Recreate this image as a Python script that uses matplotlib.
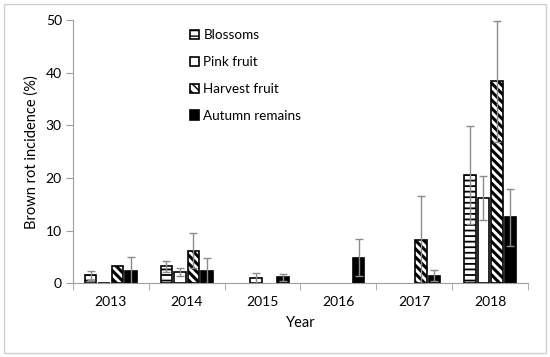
import matplotlib as mpl
import matplotlib.pyplot as plt
import numpy as np
from matplotlib.patches import Rectangle

years = ['2013', '2014', '2015', '2016', '2017', '2018']

# brown rot incidence (%) and error (upper half of the bar)
blossoms = [1.5, 3.2, 0, 0, 0, 20.6]
blossoms_err = [0.9, 1.1, np.nan, np.nan, np.nan, 9.3]
pink = [0.15, 2.1, 1.05, 0, 0, 16.2]
pink_err = [np.nan, 0.75, 0.95, np.nan, np.nan, 4.1]
harvest = [3.3, 6.2, 0, 0, 8.3, 38.4]
harvest_err = [np.nan, 3.3, np.nan, np.nan, 8.3, 11.5]
autumn = [2.4, 2.4, 1.15, 4.9, 1.45, 12.5]
autumn_err = [2.6, 2.5, 0.65, 3.6, 1.05, 5.4]

plt.rcParams['font.family'] = ['Lato', 'DejaVu Sans']

fig = plt.figure(figsize=(5.5, 3.57), dpi=100)
fig.patches.append(Rectangle((0.008, 0.012), 0.984, 0.976, transform=fig.transFigure,
                             fill=False, edgecolor='#d0d0d0', lw=1))
ax = fig.add_axes([0.1327, 0.2064, 0.8273, 0.7376])

x = np.arange(len(years))
step = 0.178
w = 0.152
# values, errors, label, face colour, hatch, hatch line width
series = [
    (blossoms, blossoms_err, 'Blossoms', 'white', '---', 1.3),
    (pink, pink_err, 'Pink fruit', 'white', None, 1.0),
    (harvest, harvest_err, 'Harvest fruit', 'white', '\\\\\\\\', 2.2),
    (autumn, autumn_err, 'Autumn remains', 'black', None, 1.0),
]
handles = []
for i, (vals, err, label, color, hatch, hlw) in enumerate(series):
    pos = x + (i - 1.5) * step
    vals = np.array(vals, dtype=float)
    shown = np.where(vals > 0, vals, np.nan)
    with mpl.rc_context({'hatch.linewidth': hlw}):
        b = ax.bar(pos, shown, width=w, color=color, edgecolor='black', lw=1.2,
                   hatch=hatch, label=label, zorder=2)
    for p in b.patches:
        if hasattr(p, 'set_hatch_linewidth'):
            p.set_hatch_linewidth(hlw)
    handles.append(b)
    ax.errorbar(pos, vals, yerr=err, fmt='none', ecolor='#8c8c8c', elinewidth=1,
                capsize=3, capthick=1, zorder=3)

ax.set_xlim(-0.5, 5.5)
ax.set_ylim(0, 50)
ax.set_yticks(range(0, 51, 10))
ax.set_xticks(x)
ax.set_xticklabels(years)
ax.set_xticks(np.arange(-0.5, 6, 1), minor=True)
ax.tick_params(axis='x', which='major', length=0, pad=9, labelsize=10)
ax.tick_params(axis='x', which='minor', length=5, color='#a0a0a0', direction='out')
ax.tick_params(axis='y', length=5, color='#a0a0a0', labelsize=10, pad=3)
for s in ['top', 'right']:
    ax.spines[s].set_visible(False)
for s in ['left', 'bottom']:
    ax.spines[s].set_color('#a0a0a0')
ax.set_ylabel('Brown rot incidence (%)', fontsize=10.5, labelpad=5)
ax.set_xlabel('Year', fontsize=10.5, labelpad=6)

ax.legend(handles=handles, loc='upper left', bbox_to_anchor=(0.245, 0.985), frameon=False,
          fontsize=9.7, handlelength=0.7, handleheight=0.7, handletextpad=0.3,
          labelspacing=1.1, borderaxespad=0)

fig.savefig('out.png', dpi=100)
